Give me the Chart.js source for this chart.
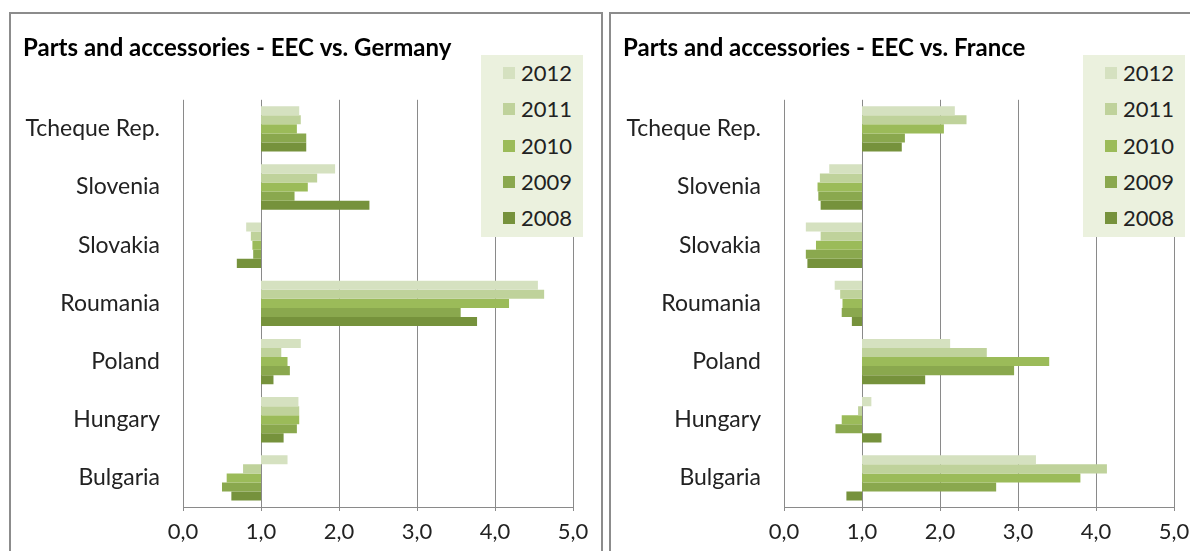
<!DOCTYPE html>
<html>
<head>
<meta charset="utf-8">
<script src="https://cdn.jsdelivr.net/npm/chart.js@4"></script>
<style>
  body { margin: 0; width: 1190px; height: 551px; overflow: hidden; background: #fff; font-family: Lato, sans-serif; }
  .panel { position: absolute; top: 12px; height: 600px; border: 2px solid #8c8c8c; box-sizing: border-box; background: #fff; }
  .panel canvas { position: absolute; left: 0; top: 0; }
  .legend { position: absolute; top: 41px; width: 102px; height: 182px; background: #ebf1de; }
  .legend div { position: absolute; left: 0; height: 24px; line-height: 24px; font-size: 22px; color: #222; }
  .legend span { position: absolute; left: 22px; top: 6px; width: 12px; height: 12px; }
  .legend b { position: absolute; left: 40px; font-weight: normal; }
</style>
</head>
<body>
<div class="panel" id="p1" style="left:9px; width:594px;">
  <canvas id="germany" width="590" height="537"></canvas>
  <div class="legend" id="leg1" style="left:470px;"></div>
</div>
<div class="panel" id="p2" style="left:609px; width:610px;">
  <canvas id="france" width="600" height="537"></canvas>
  <div class="legend" id="leg2" style="left:472px;"></div>
</div>
<script>
// data (index relative to EEC = 1,0)
const categories = ['Tcheque Rep.', 'Slovenia', 'Slovakia', 'Roumania', 'Poland', 'Hungary', 'Bulgaria'];
const years = ['2012', '2011', '2010', '2009', '2008'];
const yearColors = ['#d5e1c0', '#bfd29b', '#9bbb59', '#8aa84e', '#76923c'];
const xTickLabels = ['0,0', '1,0', '2,0', '3,0', '4,0', '5,0'];
const baseline = 1;

const germany2012 = [1.49, 1.95, 0.81, 4.55, 1.51, 1.48, 1.34];
const germany2011 = [1.51, 1.72, 0.87, 4.63, 1.26, 1.49, 0.77];
const germany2010 = [1.46, 1.60, 0.89, 4.18, 1.34, 1.49, 0.56];
const germany2009 = [1.58, 1.43, 0.90, 3.56, 1.37, 1.46, 0.50];
const germany2008 = [1.58, 2.39, 0.69, 3.77, 1.16, 1.29, 0.62];

const france2012 = [2.19, 0.58, 0.28, 0.65, 2.13, 1.12, 3.23];
const france2011 = [2.34, 0.46, 0.47, 0.72, 2.60, 0.95, 4.14];
const france2010 = [2.05, 0.43, 0.41, 0.75, 3.40, 0.74, 3.80];
const france2009 = [1.55, 0.44, 0.28, 0.74, 2.95, 0.66, 2.72];
const france2008 = [1.51, 0.47, 0.30, 0.87, 1.81, 1.25, 0.80];

const fontFamily = 'Lato, sans-serif';

function makeChart(id, title, series, yWidth, padRight) {
  const ctx = document.getElementById(id).getContext('2d');
  return new Chart(ctx, {
    type: 'bar',
    data: {
      labels: categories,
      datasets: series.map((vals, i) => ({
        label: years[i],
        data: vals.map(v => [baseline, v]),
        backgroundColor: yearColors[i],
        borderWidth: 0,
        categoryPercentage: 0.78,
        barPercentage: 1
      }))
    },
    options: {
      indexAxis: 'y',
      responsive: false,
      animation: false,
      layout: { padding: { left: 12, right: padRight, bottom: 0 } },
      plugins: {
        legend: { display: false },
        tooltip: { enabled: false },
        title: {
          display: true,
          text: title,
          align: 'start',
          color: '#000',
          font: { family: fontFamily, size: 24, weight: 'bold' },
          padding: { top: 20, bottom: 37 }
        }
      },
      scales: {
        x: {
          min: 0,
          max: 5,
          afterFit: s => { s.height = 44; },
          ticks: {
            stepSize: 1,
            padding: 8,
            color: '#222',
            font: { family: fontFamily, size: 22 },
            callback: (v, i) => xTickLabels[i]
          },
          grid: { color: '#8a8a8a', lineWidth: 1, tickLength: 4 },
          border: { color: '#8a8a8a' }
        },
        y: {
          afterFit: s => { s.width = yWidth; },
          grid: { display: false },
          border: { display: false },
          ticks: {
            padding: 15,
            color: '#222',
            font: { family: fontFamily, size: 23 }
          }
        }
      }
    }
  });
}

function makeLegend(id) {
  const box = document.getElementById(id);
  years.forEach((y, i) => {
    const row = document.createElement('div');
    row.style.top = (6 + i * 36.3) + 'px';
    row.innerHTML = `<span style="background:${yearColors[i]}"></span><b>${y}</b>`;
    box.appendChild(row);
  });
}

makeChart('germany', 'Parts and accessories - EEC vs. Germany',
  [germany2012, germany2011, germany2010, germany2009, germany2008], 160, 28);
makeChart('france', 'Parts and accessories - EEC vs. France',
  [france2012, france2011, france2010, france2009, france2008], 161, 37);
makeLegend('leg1');
makeLegend('leg2');
</script>
</body>
</html>
